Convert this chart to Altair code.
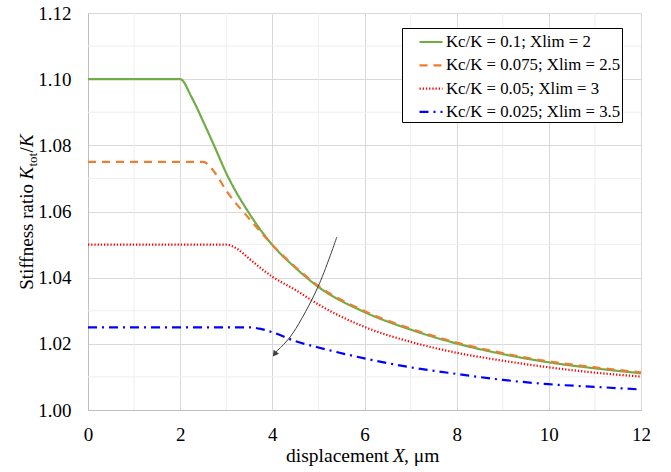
import altair as alt
import pandas as pd

FONT = "Liberation Serif"

labels = ["Kc/K = 0.1; Xlim = 2", "Kc/K = 0.075; Xlim = 2.5",
          "Kc/K = 0.05; Xlim = 3", "Kc/K = 0.025; Xlim = 3.5"]

x_green = [0, 2, 2.25, 2.5, 2.75, 3, 3.5, 4, 4.5, 5, 6, 7, 8, 9, 10, 11, 12]
y_green = [1.100, 1.100, 1.0945, 1.0872, 1.0795, 1.0716, 1.0594, 1.0499, 1.0430,
           1.0372, 1.0296, 1.0243, 1.0201, 1.0169, 1.0144, 1.0126, 1.0111]

x_orange = [0, 2.5, 2.75, 3, 3.5, 4, 4.5, 5, 6, 7, 8, 9, 10, 11, 12]
y_orange = [1.075, 1.075, 1.0718, 1.0663, 1.0578, 1.0499, 1.0432, 1.0375, 1.0299,
            1.0246, 1.0204, 1.0172, 1.0147, 1.0129, 1.0114]

x_red = [0, 3, 3.25, 3.5, 4, 4.5, 5, 6, 7, 8, 9, 10, 11, 12]
y_red = [1.050, 1.050, 1.0486, 1.0457, 1.0403, 1.0363, 1.0319, 1.0251, 1.0206,
         1.0173, 1.0149, 1.0129, 1.0113, 1.0101]

x_blue = [0, 3.5, 3.75, 4, 4.5, 5, 6, 7, 8, 9, 10, 11, 12]
y_blue = [1.025, 1.025, 1.0245, 1.0235, 1.0208, 1.0189, 1.0156, 1.0129, 1.0109,
          1.0091, 1.0078, 1.0070, 1.0062]

colors = ["#70AD47", "#ED7D31", "#FF0000", "#0000FF"]
dashes = [[1, 0], [8, 6], [1.3, 1.9], [9, 5, 2, 5]]
widths = [2.2, 2.2, 1.6, 2.2]

x_major = [0, 2, 4, 6, 8, 10, 12]
x_minor = [1, 3, 5, 7, 9, 11]
y_major = [1.00, 1.02, 1.04, 1.06, 1.08, 1.10, 1.12]
y_minor = [1.01, 1.03, 1.05, 1.07, 1.09, 1.11]

arrow_x = [5.40, 4.99, 4.45, 4.03]
arrow_y = [1.0523, 1.0372, 1.0233, 1.0170]
head_x = [4.05]
head_y = [1.0169]

rows = []
for lab, xs, ys in zip(labels, [x_green, x_orange, x_red, x_blue],
                       [y_green, y_orange, y_red, y_blue]):
    for i, (a, b) in enumerate(zip(xs, ys)):
        rows.append({"series": lab, "x": a, "y": b, "i": i})
df = pd.DataFrame(rows)

leg = alt.Legend(title=None, orient="none", legendX=314, legendY=15,
                 strokeColor="#000000", fillColor="white", padding=1,
                 symbolType="stroke", symbolSize=529, symbolOffset=15,
                 labelFont=FONT, labelFontSize=16.8, labelColor="black",
                 labelOffset=2, rowPadding=1.3, labelLimit=400,
                 labelExpr="datum.label + '\u00a0'")

xscale = alt.Scale(domain=[0, 12], nice=False)
yscale = alt.Scale(domain=[1.0, 1.12], nice=False, zero=False)
xaxis = alt.Axis(values=x_major, title=None, format="d", labelFlush=False)
yaxis = alt.Axis(values=y_major, title=None, format=".2f", labelFlush=False)

minor_x = alt.Chart(pd.DataFrame({"x": x_minor})).mark_rule(
    color="#eeeeee", strokeWidth=1).encode(x=alt.X("x:Q", scale=xscale, axis=xaxis))
minor_y = alt.Chart(pd.DataFrame({"y": y_minor})).mark_rule(
    color="#eeeeee", strokeWidth=1).encode(y=alt.Y("y:Q", scale=yscale, axis=yaxis))

lines = alt.Chart(df).mark_line(interpolate="monotone").encode(
    x=alt.X("x:Q", scale=xscale, axis=xaxis),
    y=alt.Y("y:Q", scale=yscale, axis=yaxis),
    color=alt.Color("series:N", scale=alt.Scale(domain=labels, range=colors),
                    sort=labels, legend=leg),
    strokeDash=alt.StrokeDash("series:N", scale=alt.Scale(domain=labels, range=dashes),
                              sort=labels, legend=leg),
    strokeWidth=alt.StrokeWidth("series:N", scale=alt.Scale(domain=labels, range=widths),
                                sort=labels, legend=leg),
    order="i:Q",
)

arrow = alt.Chart(pd.DataFrame({"x": arrow_x, "y": arrow_y, "i": list(range(len(arrow_x)))})).mark_line(
    interpolate="cardinal", color="#404040", strokeWidth=1).encode(
    x=alt.X("x:Q", scale=xscale, axis=xaxis),
    y=alt.Y("y:Q", scale=yscale, axis=yaxis),
    order="i:Q")
head = alt.Chart(pd.DataFrame({"x": head_x, "y": head_y})).mark_point(
    shape="triangle-up", filled=True, size=45, angle=215, color="#404040", opacity=1).encode(
    x=alt.X("x:Q", scale=xscale, axis=xaxis),
    y=alt.Y("y:Q", scale=yscale, axis=yaxis))

one = pd.DataFrame({"a": [0]})


def txt(s, x, y, size=19.5, style="normal", angle=0, align="left"):
    return alt.Chart(one).mark_text(
        text=s, font=FONT, fontSize=size, fontStyle=style, angle=angle,
        align=align, baseline="alphabetic", color="black").encode(
        x=alt.value(x), y=alt.value(y))


texts = [
    txt("displacement", 301, 448.7, align="right"),
    txt("X", 305, 448.7, style="italic"),
    txt(", \u03bcm", 316, 448.7),
    txt("Stiffness ratio", -55, 171, size=19, angle=270, align="right"),
    txt("K", -55, 166.5, size=19, style="italic", angle=270),
    txt("tot", -51, 153.5, size=13, angle=270),
    txt("/", -55, 139.5, size=19, angle=270),
    txt("K", -55, 134, size=19, style="italic", angle=270),
]

chart = alt.layer(minor_x, minor_y, lines, arrow, head, *texts).properties(
    width=553, height=397,
    padding={"left": 88, "top": 13, "right": 30, "bottom": 62},
    autosize=alt.AutoSizeParams(type="none"),
).configure_view(stroke=None).configure_axis(
    labelFont=FONT, labelFontSize=19, labelColor="black",
    ticks=False, tickSize=0, domainColor="#bfbfbf", domainWidth=1,
    gridColor="#d9d9d9", gridWidth=1,
).configure_axisY(labelPadding=17).configure_axisX(labelPadding=15)

chart.save("out.html", embed_options={"renderer": "svg", "actions": False})
